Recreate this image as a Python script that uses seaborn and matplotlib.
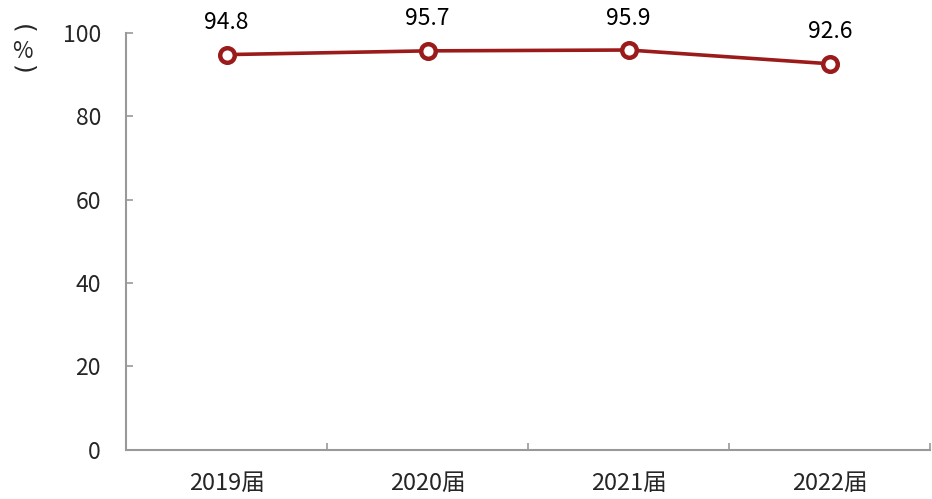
import pandas as pd
import matplotlib.pyplot as plt
import seaborn as sns

# graduates cohort and rate (%)
cohorts = ["2019届", "2020届", "2021届", "2022届"]
rates = [94.8, 95.7, 95.9, 92.6]
yticks = [0, 20, 40, 60, 80, 100]

df = pd.DataFrame({"cohort": cohorts, "rate": rates})

sns.set_theme(style="white")
plt.rcParams["font.family"] = ["Noto Sans CJK SC", "DejaVu Sans"]

line_color = "#9b1b1b"
axis_color = "#999999"

fig = plt.figure(figsize=(9.32, 4.99), dpi=100)
ax = fig.add_axes([0.1352, 0.0988, 0.863, 0.8352])

sns.lineplot(data=df, x="cohort", y="rate", ax=ax, color=line_color,
             linewidth=2.6, marker="o", markersize=10.5,
             markerfacecolor="white", markeredgecolor=line_color,
             markeredgewidth=3.2)

for i, v in enumerate(rates):
    ax.annotate(f"{v:.1f}", (i, v), xytext=(0, 23), textcoords="offset points",
                ha="center", va="center", fontsize=16.5, color="black")

ax.set_xlim(-0.5, len(cohorts) - 0.5)
ax.set_ylim(0, 100)
ax.set_yticks(yticks)
ax.set_yticklabels([str(t) for t in yticks], fontsize=16.5)
ax.set_xticks(range(len(cohorts)))
ax.set_xticklabels(cohorts, fontsize=17)
ax.set_xlabel("")
ax.set_ylabel("")

# tick marks between categories, like the source chart
ax.set_xticks([i - 0.5 for i in range(len(cohorts) + 1)], minor=True)
ax.tick_params(axis="x", which="major", bottom=True, length=0, pad=16)
ax.tick_params(axis="x", which="minor", bottom=True, direction="in",
               length=5, color=axis_color, width=1.2)
ax.tick_params(axis="y", left=True, direction="in", length=5,
               color=axis_color, width=1.2, pad=18)

sns.despine(ax=ax, top=True, right=True)
for side in ["left", "bottom"]:
    ax.spines[side].set_color(axis_color)
    ax.spines[side].set_linewidth(1.5)

# vertical unit label: arc, %, arc (stacked as in the source)
ux = 22 / 932
fig.text(ux, 1 - 29 / 499, "(", rotation=-90, ha="center", va="center",
         fontsize=18, family=["DejaVu Sans"])
fig.text(ux, 1 - 52 / 499, "%", ha="center", va="center", fontsize=16)
fig.text(ux, 1 - 70 / 499, ")", rotation=-90, ha="center", va="center",
         fontsize=18, family=["DejaVu Sans"])

fig.savefig("out.png", dpi=100)
